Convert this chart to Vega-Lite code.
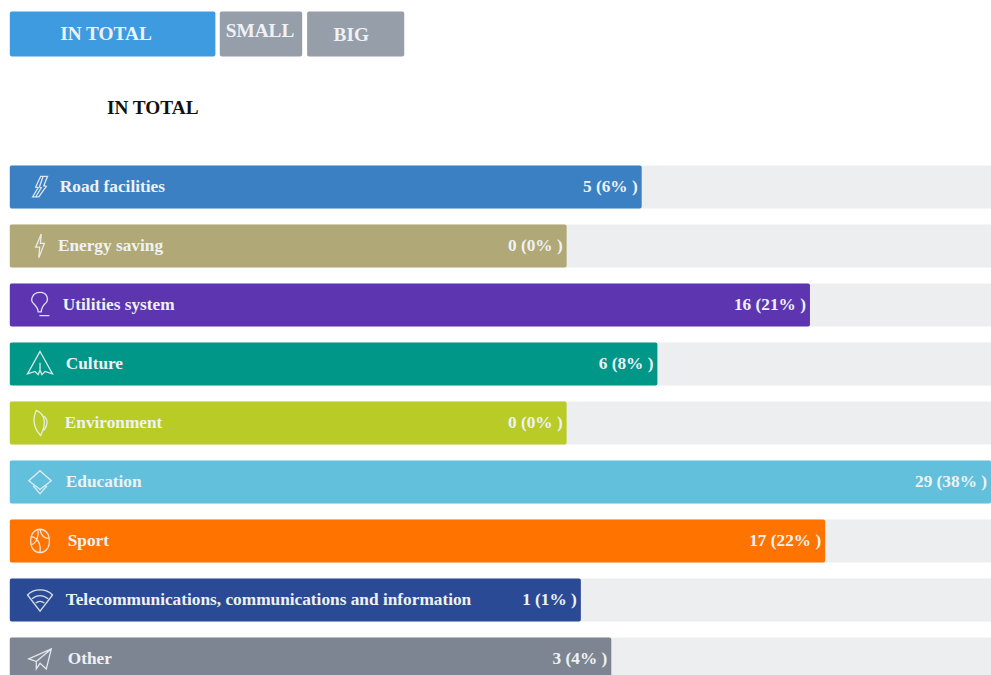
{"$schema":"https://vega.github.io/schema/vega-lite/v6.json","width":991,"height":675,"autosize":{"type":"fit","contains":"padding"},"padding":0,"background":"white","view":{"stroke":null},
"datasets":{"bars":[
{"name":"Road facilities","row":1,"start":0,"end":100,"iconx":3.08,"length":64.4,"value":5,"pct":6,"label":"5 (6% )","color":"#3b80c2","lx":5.1},
{"name":"Energy saving","row":2,"start":0,"end":100,"iconx":3.08,"length":56.75,"value":0,"pct":0,"label":"0 (0% )","color":"#b0a877","lx":4.9},
{"name":"Utilities system","row":3,"start":0,"end":100,"iconx":3.08,"length":81.55,"value":16,"pct":21,"label":"16 (21% )","color":"#5e35b1","lx":5.4},
{"name":"Culture","row":4,"start":0,"end":100,"iconx":3.08,"length":66.0,"value":6,"pct":8,"label":"6 (8% )","color":"#009688","lx":5.7},
{"name":"Environment","row":5,"start":0,"end":100,"iconx":3.08,"length":56.75,"value":0,"pct":0,"label":"0 (0% )","color":"#b9cb27","lx":5.6},
{"name":"Education","row":6,"start":0,"end":100,"iconx":3.08,"length":100,"value":29,"pct":38,"label":"29 (38% )","color":"#62c0dc","lx":5.7},
{"name":"Sport","row":7,"start":0,"end":100,"iconx":3.08,"length":83.1,"value":17,"pct":22,"label":"17 (22% )","color":"#ff7300","lx":5.9},
{"name":"Telecommunications, communications and information","row":8,"start":0,"end":100,"iconx":3.08,"length":58.2,"value":1,"pct":1,"label":"1 (1% )","color":"#2b4a96","lx":5.7},
{"name":"Other","row":9,"start":0,"end":100,"iconx":3.08,"length":61.3,"value":3,"pct":4,"label":"3 (4% )","color":"#7d8592","lx":5.9}
],"buttons":[
{"name":"IN TOTAL","x0":0,"x1":20.95,"mid":9.8,"row":-1.593,"trow":-1.593,"color":"#3f9be0"},
{"name":"SMALL","x0":21.4,"x1":29.8,"mid":25.5,"row":-1.593,"trow":-1.644,"color":"#959ea9"},
{"name":"BIG","x0":30.3,"x1":40.2,"mid":34.8,"row":-1.593,"trow":-1.576,"color":"#959ea9"}
],"heading":[{"name":"IN TOTAL","x":9.9,"row":-0.339}]},
"layer":[
{"data":{"name":"bars"},"mark":{"type":"bar","orient":"horizontal","size":43,"color":"#edeef0"},"encoding":{"y":{"field":"row","type":"quantitative","scale":{"domain":[9.272,-2.169],"range":[675,0],"padding":0,"nice":false,"zero":false},"axis":null},"x":{"field":"start","type":"quantitative","scale":{"domain":[-1,100],"nice":false,"zero":false},"axis":null},"x2":{"field":"end"}}},
{"data":{"name":"bars"},"mark":{"type":"bar","orient":"horizontal","size":43,"cornerRadius":2},"encoding":{"y":{"field":"row","type":"quantitative"},"x":{"field":"start","type":"quantitative"},"x2":{"field":"length"},"color":{"field":"color","type":"nominal","scale":null,"legend":null}}},
{"data":{"name":"buttons"},"mark":{"type":"bar","orient":"horizontal","size":45,"cornerRadius":2},"encoding":{"y":{"field":"row","type":"quantitative"},"x":{"field":"x0","type":"quantitative"},"x2":{"field":"x1"},"color":{"field":"color","type":"nominal","scale":null,"legend":null}}},
{"data":{"name":"buttons"},"mark":{"type":"text","align":"center","baseline":"middle","font":"Liberation Serif","fontWeight":"bold","fontSize":19.3,"color":"#eef2f5"},"encoding":{"y":{"field":"trow","type":"quantitative"},"x":{"field":"mid","type":"quantitative"},"text":{"field":"name"}}},
{"data":{"name":"heading"},"mark":{"type":"text","align":"left","baseline":"middle","font":"Liberation Serif","fontWeight":"bold","fontSize":19.3,"color":"#111111"},"encoding":{"y":{"field":"row","type":"quantitative"},"x":{"field":"x","type":"quantitative"},"text":{"field":"name"}}},
{"data":{"name":"bars"},"mark":{"type":"text","align":"left","baseline":"middle","font":"Liberation Serif","fontWeight":"bold","fontSize":17.3,"color":"#eef2f5"},"encoding":{"y":{"field":"row","type":"quantitative"},"x":{"field":"lx","type":"quantitative"},"text":{"field":"name"}}},
{"data":{"name":"bars"},"mark":{"type":"point","filled":false,"size":625,"opacity":0.9,"strokeWidth":1.3,"color":"#eef2f5"},"encoding":{"y":{"field":"row","type":"quantitative"},"x":{"field":"iconx","type":"quantitative"},"shape":{"field":"name","type":"nominal","legend":null,"scale":{"domain":["Road facilities","Energy saving","Utilities system","Culture","Environment","Education","Sport","Telecommunications, communications and information","Other"],"range":[
"M-0.6,0.8 L-0.15,0.05 L-0.35,0 L0.05,-0.85 L0.6,-0.85 L0.3,-0.1 L0.5,-0.05 L-0.1,0.8 Z M0.25,-0.85 L-0.05,0 L0.1,0.05 L-0.35,0.8",
"M0.1,-0.95 L-0.35,0.1 L-0.03,0.1 L-0.1,0.95 L0.35,-0.2 L0.03,-0.2 Z",
"M0,-1 C0.6,-1 0.75,-0.4 0.4,-0.1 C0.2,0.1 0.1,0.3 0.1,0.55 L-0.15,0.55 C-0.15,0.3 -0.3,0.1 -0.5,-0.1 C-0.85,-0.4 -0.6,-1 0,-1 Z M-0.05,0.85 L0.75,0.85",
"M0,-1 L1,0.8 L0.4,0.6 L0.15,0.85 L0,0.5 L-0.15,0.85 L-0.4,0.6 L-1,0.8 Z M0,-0.1 L0,0.5",
"M-0.3,-1 C0.4,-0.7 0.55,0 0.05,1 C-0.55,0.4 -0.6,-0.4 -0.3,-1 Z M0.3,-0.55 C0.65,-0.3 0.65,0.2 0.3,0.6",
"M0,-0.9 L0.9,-0.1 L0,0.6 L-0.9,-0.1 Z M-0.55,0.3 L0,0.95 L0.55,0.3",
"M-0.75,0 C-0.75,-1.25 0.75,-1.25 0.75,0 C0.75,1.25 -0.75,1.25 -0.75,0 Z M-0.65,-0.35 C-0.1,-0.2 0.1,0.4 0,0.92 M0,-0.9 C0.1,-0.4 0.4,-0.2 0.7,-0.2 M-0.7,0.3 C-0.3,0.2 -0.1,-0.3 -0.15,-0.88",
"M-1,-0.4 C-0.5,-0.95 0.5,-0.95 1,-0.4 L0,0.9 Z M-0.65,-0.1 C-0.2,-0.45 0.2,-0.45 0.65,-0.1 M-0.35,0.25 C-0.1,0.05 0.1,0.05 0.35,0.25",
"M-0.9,0 L0.9,-0.8 L0.5,0.8 L0,0.35 L-0.3,0.8 L-0.3,0.2 Z M-0.3,0.2 L0.9,-0.8"
]}}}},
{"data":{"name":"bars"},"mark":{"type":"text","align":"right","baseline":"middle","dx":-4,"font":"Liberation Serif","fontWeight":"bold","fontSize":17.3,"color":"#eef2f5"},"encoding":{"y":{"field":"row","type":"quantitative"},"x":{"field":"length","type":"quantitative"},"text":{"field":"label"}}}
]}
